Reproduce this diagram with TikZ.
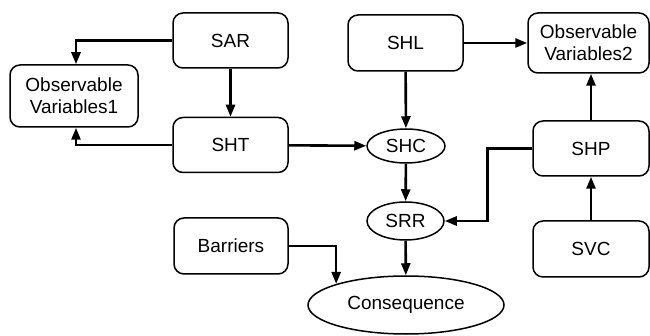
\documentclass[tikz,border=0pt]{standalone}
\usepackage{fontspec}
\setmainfont{Liberation Sans}
\usetikzlibrary{shapes.geometric,arrows.meta}
\begin{document}
\begin{tikzpicture}[x=1pt,y=-1pt,
  label font/.style={font=\fontsize{19}{22}\selectfont},
  box/.style={draw,line width=1.5pt,rounded corners=10pt,minimum width=115pt,
    minimum height=55pt,inner sep=0pt,align=center,label font},
  oval/.style={draw,ellipse,line width=1.5pt,inner sep=0pt,label font},
  link/.style={line width=2.6pt,-{Triangle[length=12pt,width=9pt]}}]
\useasboundingbox (0,0) rectangle (650,336);

% rounded boxes
\node[box] (SAR) at (230.5,40.5) {SAR};
\node[box,minimum width=128pt,minimum height=62pt] (OV1) at (74,96) {Observable\\Variables1};
\node[box] (SHT) at (230.5,145) {SHT};
\node[box,minimum height=56pt] (SHL) at (405.5,43) {SHL};
\node[box,minimum width=121pt,minimum height=60pt] (OV2) at (588.5,43) {Observable\\Variables2};
\node[box,minimum width=116pt] (SHP) at (591,148.5) {SHP};
\node[box,minimum width=116pt,minimum height=56pt] (SVC) at (591,249) {SVC};
\node[box,minimum width=114pt,minimum height=56pt] (BAR) at (231,246) {Barriers};

% ellipses
\node[oval,minimum width=78pt,minimum height=34pt] (SHC) at (406,146) {SHC};
\node[oval,minimum width=77pt,minimum height=38pt] (SRR) at (405.5,221) {SRR};
\node[oval,minimum width=196pt,minimum height=58pt] (CON) at (406,305) {Consequence};

% connectors
\draw[link] (SAR.west) -| ([xshift=2pt]OV1.north);
\draw[link] (SHT.west) -| ([xshift=2pt]OV1.south);
\draw[link] (SAR) -- (SHT);
\draw[link] (SHT) -- (SHC);
\draw[link] (SHL) -- (SHC);
\draw[link] (SHL) -- (OV2);
\draw[link] (SHC) -- (SRR);
\draw[link] (SRR) -- (CON);
\draw[link] (SVC) -- (SHP);
\draw[link] (SHP) -- (SHP.north |- OV2.south);
\draw[link] (SHP.west) -- ++(-45,0) |- (SRR.east);
\draw[link] (BAR.east) -| (CON.north west);
\end{tikzpicture}
\end{document}
